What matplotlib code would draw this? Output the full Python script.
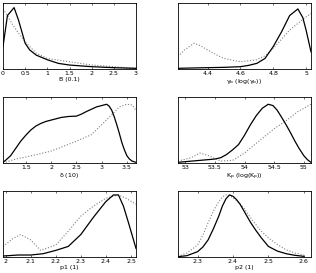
import matplotlib.pyplot as plt
import numpy as np

# panel 1: B (0.1)
b_x = [0, 0.1, 0.25, 0.35, 0.5, 0.6, 0.75, 1.0, 1.25, 1.5, 2.0, 2.5, 3.0]
b_solid = [0.34, 0.81, 0.93, 0.74, 0.39, 0.29, 0.21, 0.14, 0.085, 0.06, 0.035, 0.02, 0.01]
b_dx = [0, 0.1, 0.2, 0.3, 0.5, 0.75, 1.0, 1.5, 2.0, 2.5, 3.0]
b_dotted = [0.91, 0.81, 0.69, 0.59, 0.41, 0.24, 0.16, 0.11, 0.06, 0.035, 0.01]

# panel 2: gamma_b
g_x = [4.22, 4.3, 4.4, 4.5, 4.6, 4.65, 4.7, 4.75, 4.8, 4.85, 4.9, 4.93, 4.95, 4.98, 5.0, 5.03]
g_solid = [0.01, 0.015, 0.02, 0.025, 0.035, 0.055, 0.085, 0.16, 0.34, 0.56, 0.81, 0.87, 0.91, 0.78, 0.59, 0.26]
g_dx = [4.22, 4.26, 4.3, 4.32, 4.35, 4.4, 4.45, 4.5, 4.6, 4.7, 4.75, 4.8, 4.85, 4.9, 4.95, 5.0, 5.03]
g_dotted = [0.19, 0.29, 0.36, 0.39, 0.36, 0.29, 0.22, 0.16, 0.11, 0.14, 0.2, 0.31, 0.45, 0.59, 0.69, 0.79, 0.84]

# panel 3: delta (10)
d_x = [1.05, 1.1, 1.2, 1.3, 1.4, 1.5, 1.6, 1.7, 1.8, 1.9, 2.0, 2.2, 2.35, 2.5, 2.6, 2.7, 2.9,
       3.0, 3.1, 3.15, 3.2, 3.25, 3.3, 3.35, 3.4, 3.45, 3.5, 3.55, 3.6, 3.68]
d_solid = [0.01, 0.04, 0.11, 0.22, 0.33, 0.42, 0.5, 0.56, 0.6, 0.63, 0.65, 0.69, 0.705, 0.71, 0.74,
           0.78, 0.85, 0.87, 0.89, 0.86, 0.80, 0.7, 0.58, 0.45, 0.31, 0.2, 0.11, 0.06, 0.03, 0.01]
d_dx = [1.05, 1.3, 1.5, 2.0, 2.5, 2.8, 3.0, 3.2, 3.35, 3.5, 3.6, 3.68]
d_dotted = [0.0, 0.06, 0.09, 0.18, 0.33, 0.43, 0.58, 0.73, 0.85, 0.89, 0.88, 0.80]

# panel 4: K_p
k_x = [52.88, 53.0, 53.25, 53.5, 53.6, 53.7, 53.8, 53.9, 54.0, 54.1, 54.2, 54.3, 54.4, 54.48,
       54.55, 54.62, 54.7, 54.78, 54.85, 54.92, 55.0, 55.06, 55.12]
k_solid = [0.01, 0.02, 0.04, 0.06, 0.08, 0.13, 0.2, 0.28, 0.42, 0.58, 0.72, 0.83, 0.89, 0.87,
           0.8, 0.7, 0.58, 0.45, 0.33, 0.22, 0.11, 0.05, 0.01]
k_dx = [52.88, 53.1, 53.25, 53.4, 53.6, 53.8, 54.0, 54.2, 54.5, 54.7, 54.9, 55.12]
k_dotted = [0.03, 0.08, 0.15, 0.11, 0.03, 0.04, 0.15, 0.30, 0.52, 0.64, 0.78, 0.89]

# panel 5: p1 (1)
p1_x = [1.99, 2.05, 2.1, 2.15, 2.2, 2.25, 2.3, 2.35, 2.4, 2.43, 2.45, 2.47, 2.49, 2.52]
p1_solid = [0.015, 0.03, 0.03, 0.05, 0.1, 0.16, 0.34, 0.6, 0.84, 0.94, 0.94, 0.77, 0.52, 0.13]
p1_dx = [1.99, 2.03, 2.06, 2.1, 2.14, 2.2, 2.25, 2.3, 2.35, 2.4, 2.45, 2.48, 2.52]
p1_dotted = [0.16, 0.28, 0.34, 0.26, 0.1, 0.18, 0.39, 0.62, 0.77, 0.89, 0.94, 0.89, 0.8]

# panel 6: p2 (1)
p2_x = [2.245, 2.27, 2.3, 2.315, 2.33, 2.345, 2.36, 2.37, 2.38, 2.39, 2.4, 2.41, 2.42, 2.435,
        2.45, 2.465, 2.48, 2.5, 2.525, 2.55, 2.575, 2.6]
p2_solid = [0.005, 0.02, 0.08, 0.15, 0.26, 0.43, 0.62, 0.77, 0.88, 0.94, 0.92, 0.87, 0.8, 0.66,
            0.52, 0.4, 0.29, 0.16, 0.09, 0.05, 0.025, 0.01]
p2_dx = [2.245, 2.27, 2.3, 2.315, 2.33, 2.345, 2.36, 2.37, 2.38, 2.39, 2.4, 2.415, 2.43, 2.445,
         2.46, 2.48, 2.5, 2.525, 2.55, 2.575, 2.6]
p2_dotted = [0.01, 0.06, 0.18, 0.33, 0.52, 0.7, 0.84, 0.91, 0.94, 0.93, 0.9, 0.83, 0.75, 0.63,
             0.52, 0.39, 0.29, 0.19, 0.11, 0.06, 0.03]

panels = [
    (b_x, b_solid, b_dx, b_dotted, (0, 3), [0, 0.5, 1, 1.5, 2, 2.5, 3], 'B (0.1)'),
    (g_x, g_solid, g_dx, g_dotted, (4.22, 5.03), [4.4, 4.6, 4.8, 5], r'$\gamma_b$ (log($\gamma_b$))'),
    (d_x, d_solid, d_dx, d_dotted, (1.05, 3.68), [1.5, 2, 2.5, 3, 3.5], r'$\delta$ (10)'),
    (k_x, k_solid, k_dx, k_dotted, (52.88, 55.12), [53, 53.5, 54, 54.5, 55], r'K$_p$ (log(K$_p$))'),
    (p1_x, p1_solid, p1_dx, p1_dotted, (1.99, 2.52), [2, 2.1, 2.2, 2.3, 2.4, 2.5], 'p1 (1)'),
    (p2_x, p2_solid, p2_dx, p2_dotted, (2.245, 2.62), [2.3, 2.4, 2.5, 2.6], 'p2 (1)'),
]

plt.rcParams['mathtext.default'] = 'regular'
fig = plt.figure(figsize=(3.16, 2.73), dpi=100)

lefts = [3 / 316, 178 / 316]
bottoms = [1 - 69 / 273, 1 - 163 / 273, 1 - 257 / 273]
w = 133 / 316
h = 66 / 273

for i, (xs, ys, dxs, dys, xlim, ticks, label) in enumerate(panels):
    ax = fig.add_axes([lefts[i % 2], bottoms[i // 2], w, h])
    ax.plot(dxs, dys, color='0.5', linewidth=0.8, linestyle=(0, (1, 1.6)))
    ax.plot(xs, ys, '-', color='black', linewidth=0.9)
    ax.set_xlim(xlim)
    ax.set_ylim(0, 1)
    ax.set_xticks(ticks)
    ax.set_xticklabels([f'{t:g}' for t in ticks])
    ax.set_yticks([])
    ax.tick_params(axis='x', direction='in', top=True, length=1.5, width=0.4,
                   labelsize=4.5, pad=1.5)
    ax.set_xlabel(label, fontsize=4.5, labelpad=1)
    for s in ax.spines.values():
        s.set_linewidth(0.6)

fig.savefig('out.png', dpi=100)
